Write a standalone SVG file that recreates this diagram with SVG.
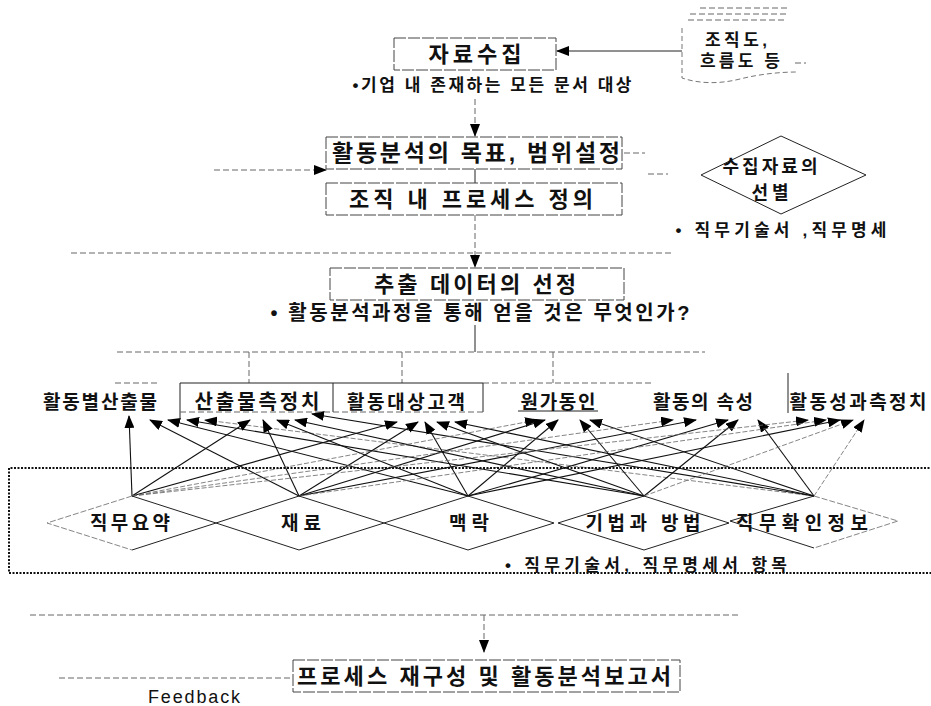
<svg xmlns="http://www.w3.org/2000/svg" width="931" height="706" viewBox="0 0 931 706">
<style>
.k{font-family:"Liberation Sans","Noto Sans CJK KR",sans-serif;fill:#111;text-anchor:middle;font-weight:bold;}
.box{fill:none;stroke:#444;stroke-width:1;stroke-dasharray:12,2;}
.ln{fill:none;stroke:#222;stroke-width:1;}
.fd{fill:none;stroke:#666;stroke-width:1;stroke-dasharray:6,3;}
.w{fill:none;stroke:#111;stroke-width:1.1;marker-end:url(#ah);}
.wf{fill:none;stroke:#666;stroke-width:0.8;stroke-dasharray:5,2;marker-end:url(#ah);}
.dot{fill:none;stroke:#111;stroke-width:2;stroke-dasharray:2,1.5;}
.dia{fill:none;stroke:#222;stroke-width:1;}
.diaf{fill:none;stroke:#777;stroke-width:0.9;stroke-dasharray:6,2;}
</style>
<defs>
<marker id="ah" markerUnits="userSpaceOnUse" markerWidth="13" markerHeight="10" refX="12" refY="5" orient="auto">
<path d="M0,0 L13,5 L0,10 z" fill="#000"/>
</marker>
</defs>
<rect width="931" height="706" fill="#fff"/>

<g id="connectors">
<line class="ln" x1="682" y1="51" x2="557" y2="51" style="marker-end:url(#ah)"/>
<line class="fd" x1="475" y1="99" x2="475" y2="136" style="marker-end:url(#ah)"/>
<line class="fd" x1="214" y1="170" x2="326" y2="170" style="marker-end:url(#ah)"/>
<line class="ln" x1="475" y1="169" x2="475" y2="183"/>
<line class="fd" x1="624" y1="153" x2="645" y2="153"/>
<line class="fd" x1="648" y1="174" x2="668" y2="174"/>
<line class="fd" x1="475" y1="215" x2="475" y2="267" style="marker-end:url(#ah)"/>
<line class="fd" x1="71" y1="253" x2="671" y2="253"/>
<line class="ln" x1="475" y1="325" x2="475" y2="352"/>
<line class="fd" x1="117" y1="352" x2="705" y2="352"/>
<line class="fd" x1="249" y1="352" x2="249" y2="383"/>
<line class="fd" x1="402" y1="352" x2="402" y2="383"/>
<line class="fd" x1="553" y1="352" x2="553" y2="383"/>
<line class="fd" x1="30" y1="615" x2="739" y2="615"/>
<line class="fd" x1="484" y1="615" x2="484" y2="652" style="marker-end:url(#ah)"/>
<line class="fd" x1="59" y1="678" x2="293" y2="678"/>
<!-- web -->
<line class="w" x1="132" y1="496" x2="129" y2="416"/>
<line class="w" x1="299" y1="496" x2="150" y2="420"/>
<line class="w" x1="468" y1="496" x2="168" y2="420"/>
<line class="w" x1="644" y1="496" x2="187" y2="420"/>
<line class="wf" x1="814" y1="496" x2="205" y2="420"/>
<line class="w" x1="132" y1="496" x2="250" y2="420"/>
<line class="w" x1="299" y1="496" x2="263" y2="420"/>
<line class="w" x1="468" y1="496" x2="277" y2="420"/>
<line class="w" x1="644" y1="496" x2="295" y2="420"/>
<line class="w" x1="814" y1="496" x2="312" y2="414"/>
<line class="w" x1="132" y1="496" x2="397" y2="422"/>
<line class="w" x1="299" y1="496" x2="418" y2="422"/>
<line class="w" x1="468" y1="496" x2="425" y2="422"/>
<line class="w" x1="644" y1="496" x2="437" y2="422"/>
<line class="w" x1="814" y1="496" x2="455" y2="422"/>
<line class="wf" x1="132" y1="496" x2="537" y2="420"/>
<line class="w" x1="299" y1="496" x2="545" y2="420"/>
<line class="w" x1="468" y1="496" x2="558" y2="420"/>
<line class="w" x1="644" y1="496" x2="580" y2="420"/>
<line class="w" x1="814" y1="496" x2="590" y2="420"/>
<line class="wf" x1="132" y1="496" x2="673" y2="420"/>
<line class="w" x1="299" y1="496" x2="696" y2="420"/>
<line class="w" x1="468" y1="496" x2="728" y2="420"/>
<line class="w" x1="644" y1="496" x2="738" y2="420"/>
<line class="w" x1="814" y1="496" x2="758" y2="420"/>
<line class="wf" x1="132" y1="496" x2="808" y2="420"/>
<line class="wf" x1="299" y1="496" x2="826" y2="420"/>
<line class="w" x1="468" y1="496" x2="840" y2="420"/>
<line class="wf" x1="644" y1="496" x2="853" y2="420"/>
<line class="wf" x1="814" y1="496" x2="864" y2="420"/>
</g>

<g id="n-doc">
<path d="M682,28 V78 C700,84 720,84 740,79 C760,74 780,72 798,72" fill="none" stroke="#777" stroke-width="1" stroke-dasharray="5,3"/>
<line class="fd" x1="700" y1="8" x2="787" y2="8"/>
<line class="fd" x1="690" y1="14" x2="787" y2="14"/>
<line class="fd" x1="688" y1="20" x2="787" y2="20"/>
<line class="fd" x1="795" y1="63" x2="806" y2="63"/>
<text class="k" x="736" y="46" font-size="17" textLength="62" lengthAdjust="spacing">조직도,</text>
<text class="k" x="740" y="67" font-size="17" textLength="80" lengthAdjust="spacing">흐름도 등</text>
</g>

<g id="n-collect">
<rect class="box" x="394" y="38" width="162" height="32"/>
<text class="k" x="475" y="62" font-size="22" textLength="93" lengthAdjust="spacing">자료수집</text>
<text class="k" x="492" y="91" font-size="17" textLength="279" lengthAdjust="spacing">•기업 내 존재하는 모든 문서 대상</text>
</g>

<g id="n-goal">
<rect class="box" x="326" y="137" width="296" height="32"/>
<text class="k" x="476" y="161" font-size="23" textLength="288" lengthAdjust="spacing">활동분석의 목표, 범위설정</text>
</g>

<g id="n-define">
<rect class="box" x="326" y="183" width="296" height="32"/>
<text class="k" x="471" y="207" font-size="22" textLength="244" lengthAdjust="spacing">조직 내 프로세스 정의</text>
</g>

<g id="n-select">
<polygon class="dia" points="781,136 866,175 781,214 701,175"/>
<text class="k" x="770" y="173" font-size="18" textLength="95" lengthAdjust="spacing">수집자료의</text>
<text class="k" x="770" y="199" font-size="18" textLength="37" lengthAdjust="spacing">선별</text>
<text class="k" x="781" y="236" font-size="17" textLength="211" lengthAdjust="spacing">• 직무기술서 ,직무명세</text>
</g>

<g id="n-extract">
<rect class="box" x="330" y="268" width="294" height="32"/>
<text class="k" x="475" y="292" font-size="22" textLength="202" lengthAdjust="spacing">추출 데이터의 선정</text>
<text class="k" x="480" y="320" font-size="20" textLength="419" lengthAdjust="spacing">• 활동분석과정을 통해 얻을 것은 무엇인가?</text>
</g>

<g id="n-categories">
<line class="ln" x1="180" y1="383" x2="483" y2="383"/>
<line class="fd" x1="483" y1="383" x2="652" y2="383"/>
<line class="fd" x1="115" y1="383" x2="157" y2="383"/>
<line class="ln" x1="180" y1="383" x2="180" y2="420"/>
<line class="ln" x1="333" y1="383" x2="333" y2="412"/>
<line class="ln" x1="483" y1="383" x2="483" y2="412"/>
<line class="ln" x1="788" y1="373" x2="788" y2="413"/>
<line class="fd" x1="180" y1="412" x2="483" y2="412"/>
<line class="ln" x1="518" y1="411" x2="598" y2="411" stroke="#555"/>
<text class="k" x="100" y="409" font-size="19" textLength="114" lengthAdjust="spacing">활동별산출물</text>
<text class="k" x="257" y="409" font-size="20" textLength="125" lengthAdjust="spacing">산출물측정치</text>
<text class="k" x="406" y="409" font-size="19" textLength="118" lengthAdjust="spacing">활동대상고객</text>
<text class="k" x="558" y="409" font-size="19" textLength="75" lengthAdjust="spacing">원가동인</text>
<text class="k" x="703" y="409" font-size="19" textLength="100" lengthAdjust="spacing">활동의 속성</text>
<text class="k" x="858" y="409" font-size="19" textLength="137" lengthAdjust="spacing">활동성과측정치</text>
</g>

<g id="n-items">
<path class="dot" d="M940,468 H9 V573 H940"/>
<path class="diaf" d="M132,496 L47,523 L132,550"/>
<path class="dia" d="M132,496 L216,523 L132,550"/>
<polygon class="dia" points="299,496 384,523 299,550 216,523"/>
<polygon class="dia" points="468,496 554,523 468,550 384,523"/>
<polygon class="dia" points="644,496 729,523 644,550 558,523"/>
<path class="dia" d="M814,496 L730,521 L814,548"/>
<path class="diaf" d="M814,496 L898,521 L814,548"/>
<text class="k" x="130" y="530" font-size="19" textLength="80" lengthAdjust="spacing">직무요약</text>
<text class="k" x="301" y="530" font-size="19" textLength="40" lengthAdjust="spacing">재료</text>
<text class="k" x="469" y="530" font-size="19" textLength="40" lengthAdjust="spacing">맥락</text>
<text class="k" x="643" y="530" font-size="19" textLength="115" lengthAdjust="spacing">기법과 방법</text>
<text class="k" x="802" y="530" font-size="19" textLength="132" lengthAdjust="spacing">직무확인정보</text>
<text class="k" x="646" y="571" font-size="17" textLength="282" lengthAdjust="spacing">• 직무기술서, 직무명세서 항목</text>
</g>

<g id="n-report">
<rect class="box" x="293" y="660" width="387" height="32"/>
<text class="k" x="484" y="684" font-size="22" textLength="374" lengthAdjust="spacing">프로세스 재구성 및 활동분석보고서</text>
<text class="k" x="194" y="703" font-size="18" style="font-weight:normal" textLength="92" lengthAdjust="spacing">Feedback</text>
</g>
</svg>
